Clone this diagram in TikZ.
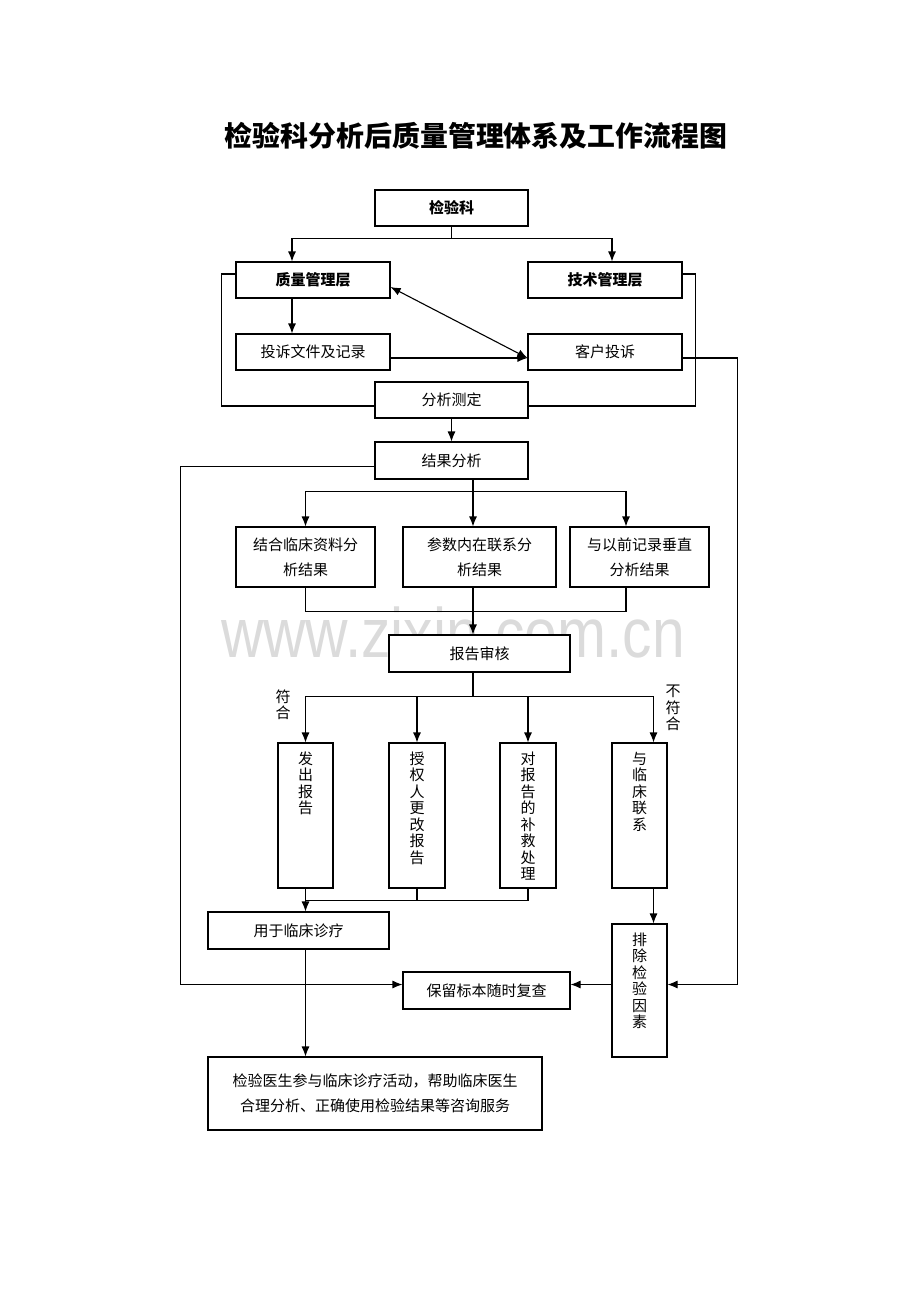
\documentclass[tikz,border=0pt]{standalone}
\usepackage{fontspec}
\newfontfamily\cjk{Noto Sans CJK SC}
\newfontfamily\wmfont{Liberation Sans}
\usetikzlibrary{arrows.meta,calc}

\tikzset{
	box/.style={draw, fill=white, line width=1.1pt, inner sep=0pt, align=center,
		font=\cjk\fontsize{15}{25}\selectfont},
	bbox/.style={box, font=\cjk\bfseries\fontsize{15}{25}\selectfont},
	sz/.style 2 args={minimum width=#1pt, minimum height=#2pt},
	vbox/.style={box, text width=16pt, text height=21pt, text depth=#1,
		font=\cjk\fontsize{15}{16.5}\selectfont},
	link/.style={line width=1.1pt},
	arr/.style={link, -{Latex[length=10pt,width=8pt]}},
	tag/.style={align=center, inner sep=0pt, font=\cjk\fontsize{15}{16.5}\selectfont},
}

\begin{document}
\begin{tikzpicture}[x=1pt,y=-1pt]
	\useasboundingbox (0,0) rectangle (920,1302);
	% watermark
	\node (wm) at (453,632) {\color{black!14}\scalebox{0.84}[1]{\wmfont\fontsize{70}{70}\selectfont www.zixin.com.cn}};
	\node[font=\cjk\bfseries\fontsize{27.9}{30}\selectfont] (title) at (476,136) {检验科分析后质量管理体系及工作流程图};

	% upper part
	\node[bbox,sz={153}{36}] (jyk) at (451.5,208) {检验科};
	\node[bbox,sz={154}{36}] (zl) at (313,280) {质量管理层};
	\node[bbox,sz={154}{36}] (js) at (605,280) {技术管理层};
	\node[box,sz={154}{36}] (ts) at (313,352) {投诉文件及记录};
	\node[box,sz={154}{36}] (kh) at (605,352) {客户投诉};
	\node[box,sz={153}{36}] (fx) at (451.5,400) {分析测定};
	\node[box,sz={153}{37}] (jg) at (451.5,460.5) {结果分析};

	% analysis
	\node[box,sz={139}{60}] (r1) at (305.5,557) {结合临床资料分\\析结果};
	\node[box,sz={153}{60}] (r2) at (479.5,557) {参数内在联系分\\析结果};
	\node[box,sz={139}{60}] (r3) at (639.5,557) {与以前记录垂直\\分析结果};
	\node[box,sz={181}{37}] (bg) at (479.5,653.5) {报告审核};

	% report handling
	\node[vbox=124pt,sz={55}{145}] (o1) at (305.5,815.5) {发\\出\\报\\告};
	\node[vbox=124pt,sz={56}{145}] (o2) at (417,815.5) {授\\权\\人\\更\\改\\报\\告};
	\node[vbox=124pt,sz={56}{145}] (o3) at (528,815.5) {对\\报\\告\\的\\补\\救\\处\\理};
	\node[vbox=124pt,sz={55}{145}] (o4) at (639.5,815.5) {与\\临\\床\\联\\系};
	\node[tag] (ok) at (283,705) {符\\合};
	\node[tag] (nok) at (673,708) {不\\符\\合};

	\node[box,sz={181}{37}] (yl) at (298.5,930.5) {用于临床诊疗};
	\node[vbox=112pt,sz={55}{133}] (pc) at (639.5,990.5) {排\\除\\检\\验\\因\\素};
	\node[box,sz={167}{37}] (bl) at (486.5,990.5) {保留标本随时复查};
	\node[box,sz={334}{73}] (ys) at (375,1093.5) {检验医生参与临床诊疗活动，帮助临床医生\\合理分析、正确使用检验结果等咨询服务};

	% connectors
	\draw[arr] (jyk.south) -- ++(0,12) -| ([xshift=-21pt]zl.north);
	\draw[arr] (jyk.south) -- ++(0,12) -| ([xshift=7pt]js.north);
	\draw[arr] ([xshift=-21pt]zl.south) -- ([xshift=-21pt]ts.north);
	\draw[link,{Latex[length=10pt,width=8pt]}-{Latex[length=10pt,width=8pt]}] ([yshift=-7pt]zl.east) -- ([yshift=-6pt]kh.west);
	\draw[arr] ([yshift=-6pt]ts.east) -- ([yshift=-6pt]kh.west);
	\draw[link] ([yshift=6pt]zl.west) -- ++(-14,0) |- ([yshift=-6pt]fx.west);
	\draw[link] ([yshift=6pt]js.east) -- ++(13,0) |- ([yshift=-6pt]fx.east);
	\draw[arr] ([yshift=-6pt]kh.east) -- ++(55,0) |- ([yshift=6pt]pc.east);
	\draw[arr] (fx.south) -- (jg.north);
	\draw[arr] ([yshift=-6pt]jg.west) -- ++(-194,0) |- ([yshift=6pt]bl.west);

	\draw[arr] ([xshift=21.5pt]jg.south) -- ([xshift=-6.5pt]r2.north);
	\draw[arr] ([xshift=21.5pt]jg.south) -- ++(0,12) -| (r1.north);
	\draw[arr] ([xshift=21.5pt]jg.south) -- ++(0,12) -| ([xshift=-13.5pt]r3.north);
	\draw[link] (r1.south) -- ++(0,24) -| ([xshift=-13.5pt]r3.south);
	\draw[arr] ([xshift=-6.5pt]r2.south) -- ([xshift=-6.5pt]bg.north);

	\draw[arr] ([xshift=-6.5pt]bg.south) -- ++(0,24) -| (o1.north);
	\draw[arr] ([xshift=-6.5pt]bg.south) -- ++(0,24) -| (o2.north);
	\draw[arr] ([xshift=-6.5pt]bg.south) -- ++(0,24) -| (o3.north);
	\draw[arr] ([xshift=-6.5pt]bg.south) -- ++(0,24) -| ([xshift=14pt]o4.north);

	\draw[link] (o3.south) -- ++(0,12) -| (o1.south);
	\draw[link] (o2.south) -- ++(0,12);
	\draw[arr] (o1.south) -- (o1.south |- yl.north);
	\draw[arr] ([xshift=14pt]o4.south) -- ([xshift=14pt]pc.north);
	\draw[arr] (yl.south -| o1.south) -- (o1.south |- ys.north);
	\draw[arr] ([yshift=6pt]pc.west) -- ([yshift=6pt]bl.east);
\end{tikzpicture}
\end{document}
